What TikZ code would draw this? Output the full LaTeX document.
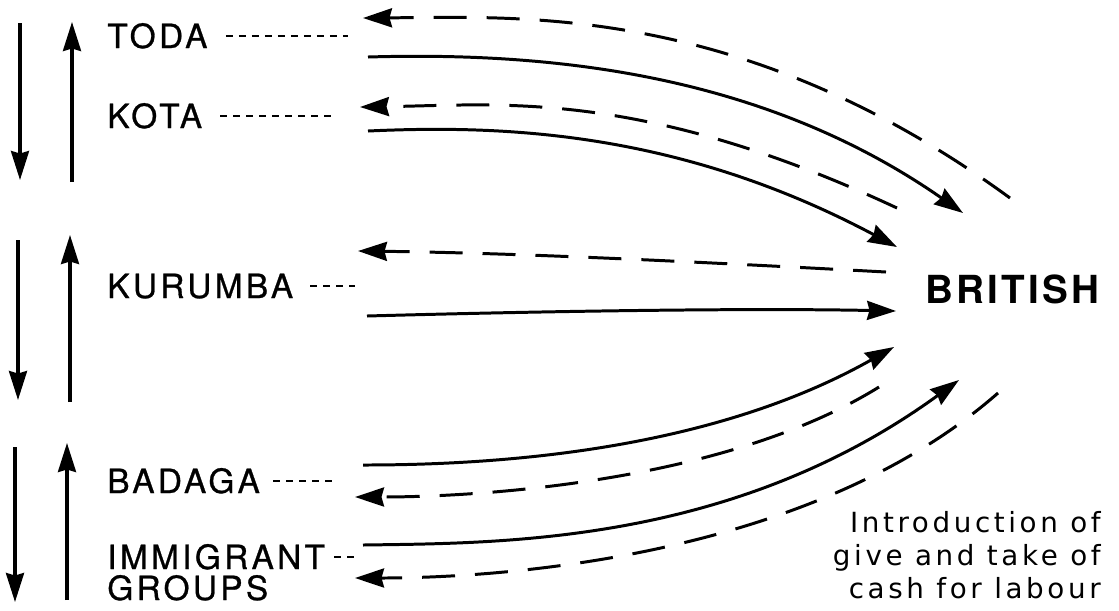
\documentclass[tikz,border=0pt]{standalone}
\usepackage{fontspec}
\usetikzlibrary{arrows.meta}
\newfontfamily\tribefont[LetterSpace=10, FakeBold=0.8]{TeX Gyre Heros}
\newfontfamily\britfont[LetterSpace=8.5]{TeX Gyre Heros}
\newfontfamily\notefont[LetterSpace=13]{DejaVu Sans}

\tikzset{
  tribe/.style={inner sep=0pt, anchor=base west, font=\tribefont\fontsize{19pt}{19pt}\selectfont},
  leader/.style={line width=1.3pt, dash pattern=on 0.14cm off 0.12cm},
  labour/.style={line width=1.7pt, -{Stealth[length=0.58cm, width=0.38cm, inset=0.05cm]}},
  cash/.style={labour, dash pattern=on 0.66cm off 0.4cm},
  vmove/.style={line width=1.8pt, -{Stealth[length=0.58cm, width=0.36cm, inset=0.05cm]}},
}

\begin{document}
\begin{tikzpicture}[x=0.02cm, y=-0.02cm]
  \useasboundingbox (0,0) rectangle (1119,610);

  % --- mobility arrows on the left ---
  \coordinate (dn1a) at (20,23);  \coordinate (dn1b) at (20,180);
  \coordinate (up1a) at (72,182); \coordinate (up1b) at (72,22);
  \coordinate (dn2a) at (18,240); \coordinate (dn2b) at (18,400);
  \coordinate (up2a) at (70,402); \coordinate (up2b) at (70,235);
  \coordinate (dn3a) at (15,447); \coordinate (dn3b) at (15,602);
  \coordinate (up3a) at (67,600); \coordinate (up3b) at (67,443);
  \draw[vmove] (dn1a) -- (dn1b);
  \draw[vmove] (up1a) -- (up1b);
  \draw[vmove] (dn2a) -- (dn2b);
  \draw[vmove] (up2a) -- (up2b);
  \draw[vmove] (dn3a) -- (dn3b);
  \draw[vmove] (up3a) -- (up3b);

  % --- groups ---
  \node[tribe] (toda) at (107,48) {TODA};
  \node[tribe] (kota) at (107,128) {KOTA};
  \node[tribe] (kurumba) at (107,298) {KURUMBA};
  \node[tribe] (badaga) at (107,493) {BADAGA};
  \node[tribe] (immigrant) at (107,569) {IMMIGRANT};
  \node[tribe] (groups) at (107,600) {GROUPS};
  \draw[leader] (toda.east) ++(18,0) -- ++(122,0);
  \draw[leader] (kota.east) ++(18,0) -- ++(114,0);
  \draw[leader] (kurumba.east) ++(17,0) -- ++(45,0);
  \draw[leader] (badaga.east) ++(13,0) -- ++(63,0);
  \draw[leader] (immigrant.east) ++(9,0) -- ++(24,0);

  % --- British ---
  \node[inner sep=0pt, anchor=base west, font=\britfont\bfseries\fontsize{22pt}{22pt}\selectfont] (british) at (925,303) {BRITISH};
  \node[inner sep=0pt, anchor=north east, align=right, font=\notefont\fontsize{15.8pt}{18.7pt}\selectfont] (note) at (1101,511) {Introduction of\\give and take of\\cash for labour};

  % --- TODA ---
  \coordinate (todaS) at (368,57);  \coordinate (todaE) at (963,213);
  \coordinate (todaR) at (1010,198); \coordinate (todaL) at (363,18);
  \draw[labour] (todaS) .. controls (540,52) and (758,70) .. (todaE);
  \draw[cash] (todaR) .. controls (743,3) and (520,17) .. (todaL);

  % --- KOTA ---
  \coordinate (kotaS) at (368,131); \coordinate (kotaE) at (897,247);
  \coordinate (kotaR) at (897,208); \coordinate (kotaL) at (360,107);
  \draw[labour] (kotaS) .. controls (500,125) and (677,130) .. (kotaE);
  \draw[cash] (kotaR) .. controls (640,88) and (500,105) .. (kotaL);

  % --- KURUMBA ---
  \coordinate (kuruS) at (367,316); \coordinate (kuruE) at (896,311);
  \coordinate (kuruR) at (886,272); \coordinate (kuruL) at (358,251);
  \draw[labour] (kuruS) .. controls (550,311) and (750,308) .. (kuruE);
  \draw[cash] (kuruR) .. controls (700,262) and (520,253) .. (kuruL);

  % --- BADAGA ---
  \coordinate (badaS) at (363,465); \coordinate (badaE) at (894,347);
  \coordinate (badaR) at (879,387); \coordinate (badaL) at (355,497);
  \draw[labour] (badaS) .. controls (480,465) and (703,455) .. (badaE);
  \draw[cash] (badaR) .. controls (726,482) and (480,497) .. (badaL);

  % --- IMMIGRANT GROUPS ---
  \coordinate (immiS) at (363,545); \coordinate (immiE) at (959,380);
  \coordinate (immiR) at (998,393); \coordinate (immiL) at (355,578);
  \draw[labour] (immiS) .. controls (500,543) and (732,545) .. (immiE);
  \draw[cash] (immiR) .. controls (810,558) and (500,578) .. (immiL);
\end{tikzpicture}
\end{document}
